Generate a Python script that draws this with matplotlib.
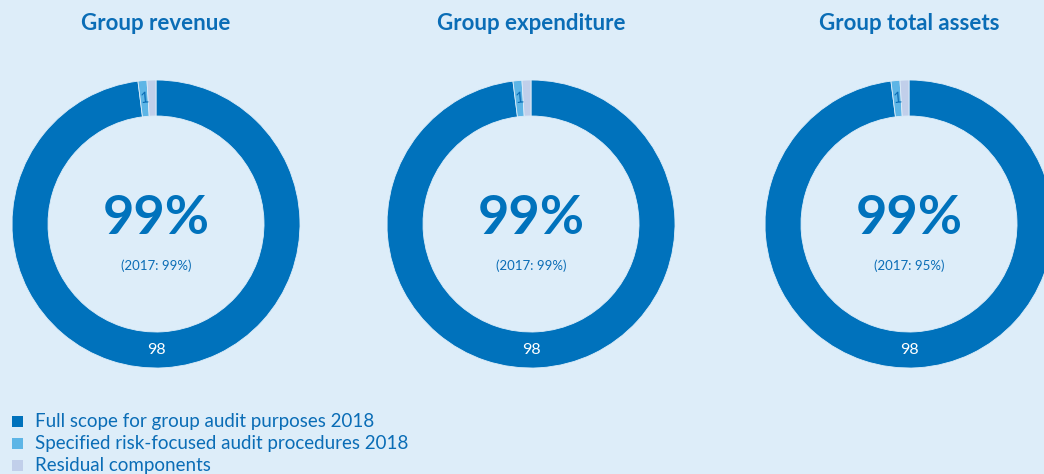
import matplotlib
matplotlib.use("Agg")
import numpy as np
import matplotlib.pyplot as plt
from matplotlib.patches import Rectangle

# --- data ---
titles = ["Group revenue", "Group expenditure", "Group total assets"]
shares = [[98, 1, 1], [98, 1, 1], [98, 1, 1]]
totals_2018 = ["99%", "99%", "99%"]
totals_2017 = ["(2017: 99%)", "(2017: 99%)", "(2017: 95%)"]
legend_labels = ["Full scope for group audit purposes 2018",
                 "Specified risk-focused audit procedures 2018",
                 "Residual components"]

# --- style ---
BG = "#ddedf9"
DARK = "#0072bc"
LIGHT = "#5db5e6"
LAVENDER = "#c1cfea"
TEXT = "#0a6db6"
colors = [DARK, LIGHT, LAVENDER]
plt.rcParams["font.family"] = ["Lato", "DejaVu Sans"]

W, H = 1044, 474
fig = plt.figure(figsize=(W / 100, H / 100), dpi=100, facecolor=BG)

centers_x = [156, 531, 909]
cy = 224
R = 144

for i, cx in enumerate(centers_x):
    ax = fig.add_axes([(cx - R) / W, (H - cy - R) / H, 2 * R / W, 2 * R / H])
    ax.set_facecolor(BG)
    wedges, _ = ax.pie(shares[i], colors=colors, startangle=90, counterclock=False,
                       radius=1.0, wedgeprops=dict(width=0.25, edgecolor=BG, linewidth=0.6))
    ax.set_xlim(-1, 1)
    ax.set_ylim(-1, 1)
    ax.set_aspect("equal")
    ax.axis("off")

    # segment labels
    rl = 0.875
    ax.text(0, -rl, str(shares[i][0]), ha="center", va="center", color="white", fontsize=11.5)
    w1 = wedges[1]
    th = np.deg2rad((w1.theta1 + w1.theta2) / 2)
    ax.text(rl * np.cos(th), rl * np.sin(th), str(shares[i][1]), ha="center", va="center",
            color=TEXT, fontsize=10.5, rotation=np.rad2deg(th) - 90)

    ax.text(0, 0.04, totals_2018[i], ha="center", va="center", color=DARK,
            fontsize=39, fontweight="bold")
    ax.text(0, -0.29, totals_2017[i], ha="center", va="center", color=TEXT, fontsize=9.5)

    fig.text(cx / W, 1 - 23 / H, titles[i], ha="center", va="center", color=TEXT,
             fontsize=16, fontweight="bold")

# legend
for j, lab in enumerate(legend_labels):
    y = 1 - (421 + j * 22) / H
    fig.patches.append(Rectangle((12 / W, y - 5.5 / H), 11 / W, 11 / H, transform=fig.transFigure,
                                 facecolor=colors[j], edgecolor="none"))
    fig.text(35 / W, y, lab, ha="left", va="center", color=TEXT, fontsize=13.5)

fig.savefig("out.png", dpi=100, facecolor=BG)
